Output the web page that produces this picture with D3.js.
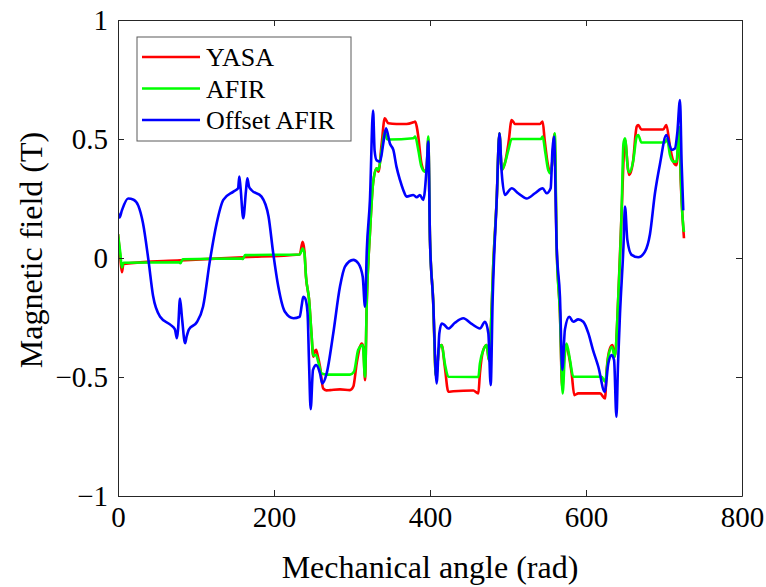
<!DOCTYPE html>
<html>
<head>
<meta charset="utf-8">
<script src="https://cdn.jsdelivr.net/npm/d3@7"></script>
<style>
  html, body { margin: 0; padding: 0; background: #fff; }
  svg { display: block; }
  svg text { font-family: "Liberation Serif", "Times New Roman", serif; }
</style>
</head>
<body>
<svg id="chart" width="766" height="587"></svg>
<script>
// series: [angle (rad), field (T)]
const yasa = [
  [0,0.1],[3,0.0],[5,-0.06],[7,-0.025],[80,-0.01],[160,0.003],[233,0.015],[236.7,0.068],[239,0.03],
  [241,-0.078],[245,-0.176],[248,-0.316],[250.4,-0.415],[252,-0.395],[254,-0.386],[256,-0.41],[259,-0.457],
  [263,-0.548],[267,-0.556],[272,-0.555],[284.6,-0.552],[297.4,-0.555],[301.7,-0.54],[306,-0.443],[310,-0.375],
  [312.4,-0.359],[314.5,-0.373],[316.7,-0.513],[319,-0.176],[323,0.104],[327,0.314],[331.6,0.377],[334,0.363],
  [338,0.48],[342,0.587],[346.5,0.566],[357,0.563],[370,0.563],[378.6,0.57],[381,0.573],[383,0.552],[385,0.51],
  [389,0.398],[393.6,0.363],[395.8,0.384],[397.8,0.5],[400,0.076],[404,-0.176],[407.6,-0.499],[412,-0.373],
  [415,-0.366],[419,-0.457],[423.5,-0.562],[430,-0.56],[455.5,-0.557],[462,-0.569],[464,-0.485],[468.4,-0.386],
  [472.6,-0.366],[475.5,-0.43],[477.8,-0.316],[481,-0.036],[485.5,0.244],[489,0.524],[492,0.37],[496,0.398],
  [500.5,0.48],[504.7,0.58],[509,0.563],[541,0.563],[544.4,0.573],[547,0.496],[551.6,0.384],[554.7,0.358],
  [557,0.41],[559.5,0.52],[562.4,0.047],[566.6,-0.233],[569.6,-0.55],[573,-0.366],[577.4,-0.4],[581.6,-0.485],
  [585,-0.576],[590,-0.569],[618,-0.569],[624.4,-0.59],[626.5,-0.47],[630.7,-0.38],[634,-0.366],[637,-0.415],
  [641.4,-0.163],[645.6,0.188],[650,0.496],[654,0.37],[655.5,0.349],[660,0.398],[665,0.552],[667,0.559],
  [671,0.54],[699,0.54],[703,0.559],[707.7,0.468],[712,0.405],[716,0.39],[719.6,0.538],[721.4,0.328],
  [724,0.16],[725.6,0.083]
];

const afir = [
  [0,0.1],[3,0.02],[5,-0.04],[7,-0.02],[78,-0.018],[80,-0.022],[83,-0.005],[158,-0.002],[160,-0.004],
  [163,0.012],[233,0.015],[236.7,0.04],[239,0.02],[241,-0.078],[245,-0.176],[248,-0.316],[250.4,-0.41],
  [254,-0.408],[257,-0.44],[261,-0.485],[267.5,-0.49],[297.4,-0.49],[302.5,-0.478],[308,-0.386],[313.7,-0.366],
  [316.7,-0.499],[319,-0.176],[323,0.104],[327,0.314],[331.6,0.377],[334,0.37],[338,0.454],[342,0.531],
  [344.8,0.5],[347.8,0.498],[378.6,0.503],[381,0.51],[385,0.454],[389,0.384],[393.6,0.363],[395.8,0.384],
  [397.8,0.51],[400,0.076],[404,-0.176],[407.6,-0.499],[412,-0.373],[415,-0.366],[419,-0.443],[423.5,-0.499],
  [462,-0.5],[464,-0.443],[468.4,-0.386],[472.6,-0.366],[475.5,-0.43],[477.8,-0.316],[481,-0.036],[485.5,0.244],
  [489,0.524],[492,0.37],[496,0.398],[500.5,0.454],[504.7,0.5],[542,0.5],[544.4,0.51],[548,0.44],[551.6,0.37],
  [554.7,0.356],[557,0.41],[560,0.524],[562.4,0.047],[566.6,-0.233],[570,-0.569],[573,-0.4],[575,-0.359],
  [579.5,-0.43],[583.7,-0.499],[620,-0.499],[624.4,-0.52],[628.6,-0.415],[633,-0.373],[637,-0.415],
  [641.4,-0.163],[645.6,0.188],[648,0.48],[650,0.503],[654,0.37],[656,0.36],[660.6,0.41],[665,0.51],
  [667,0.517],[671,0.485],[701,0.485],[704,0.5],[707.7,0.433],[712,0.405],[716,0.405],[719.6,0.55],
  [721.4,0.35],[724,0.16],[725.6,0.11]
];

const offsetAfir = [
  [0,0.19],[2,0.17],[5,0.2],[13,0.25],[20,0.245],[26,0.22],[32,0.147],[39,-0.008],[45,-0.16],[54,-0.247],
  [67,-0.28],[73,-0.30],[75.5,-0.337],[77,-0.3],[79.5,-0.17],[82,-0.25],[86,-0.358],[88,-0.33],[91,-0.30],
  [101,-0.27],[109,-0.205],[118,-0.008],[126.5,0.146],[135,0.244],[148,0.279],[154,0.293],[155.5,0.342],
  [157,0.30],[160.6,0.167],[164,0.28],[165.8,0.335],[168,0.30],[171,0.286],[184,0.258],[193,0.174],[199,0.02],
  [205.5,-0.12],[214,-0.226],[225,-0.253],[233,-0.247],[235.5,-0.2],[237.5,-0.163],[240,-0.17],[243,-0.23],
  [245,-0.45],[247,-0.635],[250,-0.47],[254,-0.45],[259,-0.485],[262,-0.527],[267.5,-0.485],[276,-0.316],
  [284.6,-0.12],[291,-0.036],[301.7,-0.008],[308,-0.022],[313.7,-0.078],[316.7,-0.205],[319,0.034],[323,0.244],
  [327,0.62],[329,0.45],[331.6,0.41],[336,0.405],[340,0.48],[343.6,0.545],[348.7,0.48],[353,0.454],[357,0.384],
  [361.5,0.328],[365.7,0.286],[370,0.258],[378.6,0.265],[383,0.255],[387,0.265],[391.4,0.244],[395.8,0.384],
  [397.8,0.489],[400,0.076],[404,-0.176],[408.5,-0.527],[412,-0.316],[415,-0.275],[418,-0.28],[423.5,-0.296],
  [432,-0.272],[442.7,-0.253],[453.4,-0.277],[464,-0.296],[470.5,-0.268],[474.8,-0.316],[477.8,-0.534],
  [480.3,-0.176],[485.5,0.244],[489,0.524],[492,0.356],[496,0.265],[504.7,0.293],[513,0.272],[524,0.25],
  [534.6,0.272],[544.4,0.293],[549.5,0.272],[554.7,0.293],[557,0.454],[559,0.51],[562.4,0.047],[566.6,-0.163],
  [569.6,-0.47],[573,-0.30],[578.6,-0.247],[583.7,-0.268],[590,-0.258],[596.5,-0.268],[603,-0.316],[609,-0.387],
  [615.8,-0.457],[624,-0.562],[628.6,-0.443],[633,-0.408],[636,-0.429],[639,-0.667],[641,-0.45],[643.6,-0.233],
  [648,0.047],[650,0.216],[653,0.076],[658.5,0.013],[667,0.003],[675.6,0.027],[682,0.1],[688.4,0.272],
  [695,0.398],[703,0.517],[709.8,0.454],[714,0.46],[717,0.524],[720.5,0.664],[722.6,0.398],[724.7,0.2]
];

const seriesNames = ['YASA', 'AFIR', 'Offset AFIR'];
const seriesColors = ['#ff0000', '#00ff00', '#0000ff'];
const xTicks = [0, 200, 400, 600, 800];
const yTicks = [-1, -0.5, 0, 0.5, 1];

const margin = { left: 118, top: 20, right: 24, bottom: 91 };
const width = 766, height = 587;
const serif = 'Liberation Serif, Times New Roman, serif';

const svg = d3.select('#chart');

const x = d3.scaleLinear().domain([0, 800]).range([margin.left, width - margin.right]);
const y = d3.scaleLinear().domain([-1, 1]).range([height - margin.bottom, margin.top]);

const fmt = v => (v < 0 ? '\u2212' : '') + Math.abs(v);

// clip
svg.append('defs').append('clipPath').attr('id', 'plot-clip')
  .append('rect')
  .attr('x', x(0)).attr('y', y(1))
  .attr('width', x(800) - x(0)).attr('height', y(-1) - y(1));

// lines
const line = d3.line()
  .x(d => x(d[0]))
  .y(d => y(d[1]))
  .curve(d3.curveMonotoneX);

const plot = svg.append('g').attr('clip-path', 'url(#plot-clip)');
[yasa, afir, offsetAfir].forEach((s, i) => {
  plot.append('path')
    .datum(s)
    .attr('fill', 'none')
    .attr('stroke', seriesColors[i])
    .attr('stroke-width', 2.6)
    .attr('stroke-linejoin', 'round')
    .attr('d', line);
});

// axes (ticks inside, box on)
const tickLen = 6;
const axisColor = '#262626';

svg.append('g')
  .attr('transform', `translate(0,${y(-1)})`)
  .attr('font-family', serif)
  .call(d3.axisBottom(x).tickValues(xTicks).tickSizeInner(-tickLen).tickSizeOuter(0).tickPadding(10).tickFormat(fmt))
  .call(g => {
    g.attr('font-family', serif);
    g.select('.domain').attr('stroke', axisColor);
    g.selectAll('.tick line').attr('stroke', axisColor);
    g.selectAll('text').attr('fill', '#000').attr('font-size', 29).attr('dy', '0.71em');
  });

svg.append('g')
  .attr('transform', `translate(0,${y(1)})`)
  .call(d3.axisTop(x).tickValues(xTicks).tickSizeInner(-tickLen).tickSizeOuter(0).tickFormat(''))
  .call(g => {
    g.select('.domain').attr('stroke', axisColor);
    g.selectAll('.tick line').attr('stroke', axisColor);
  });

svg.append('g')
  .attr('transform', `translate(${x(0)},0)`)
  .call(d3.axisLeft(y).tickValues(yTicks).tickSizeInner(-tickLen).tickSizeOuter(0).tickPadding(10).tickFormat(fmt))
  .call(g => {
    g.attr('font-family', serif);
    g.select('.domain').attr('stroke', axisColor);
    g.selectAll('.tick line').attr('stroke', axisColor);
    g.selectAll('text').attr('fill', '#000').attr('font-size', 29);
  });

svg.append('g')
  .attr('transform', `translate(${x(800)},0)`)
  .call(d3.axisRight(y).tickValues(yTicks).tickSizeInner(-tickLen).tickSizeOuter(0).tickFormat(''))
  .call(g => {
    g.select('.domain').attr('stroke', axisColor);
    g.selectAll('.tick line').attr('stroke', axisColor);
  });

// axis labels
svg.append('text')
  .attr('x', (x(0) + x(800)) / 2)
  .attr('y', 578)
  .attr('text-anchor', 'middle')
  .attr('font-family', serif)
  .attr('font-size', 32)
  .attr('fill', '#000')
  .text('Mechanical angle (rad)');

svg.append('text')
  .attr('transform', `translate(42,${(y(1) + y(-1)) / 2 - 8}) rotate(-90)`)
  .attr('text-anchor', 'middle')
  .attr('font-family', serif)
  .attr('font-size', 32)
  .attr('fill', '#000')
  .text('Magnetic field (T)');

// legend
const legend = svg.append('g');
legend.append('rect')
  .attr('x', 137).attr('y', 37)
  .attr('width', 214).attr('height', 104)
  .attr('fill', '#fff')
  .attr('stroke', '#5a5a5a')
  .attr('stroke-width', 1);

seriesNames.forEach((name, i) => {
  const ly = 57 + i * 31.5;
  legend.append('line')
    .attr('x1', 142).attr('x2', 200)
    .attr('y1', ly).attr('y2', ly)
    .attr('stroke', seriesColors[i])
    .attr('stroke-width', 2.6);
  legend.append('text')
    .attr('x', 206).attr('y', ly + 9)
    .attr('font-family', serif)
    .attr('font-size', 26)
    .attr('fill', '#000')
    .text(name);
});
</script>
</body>
</html>
